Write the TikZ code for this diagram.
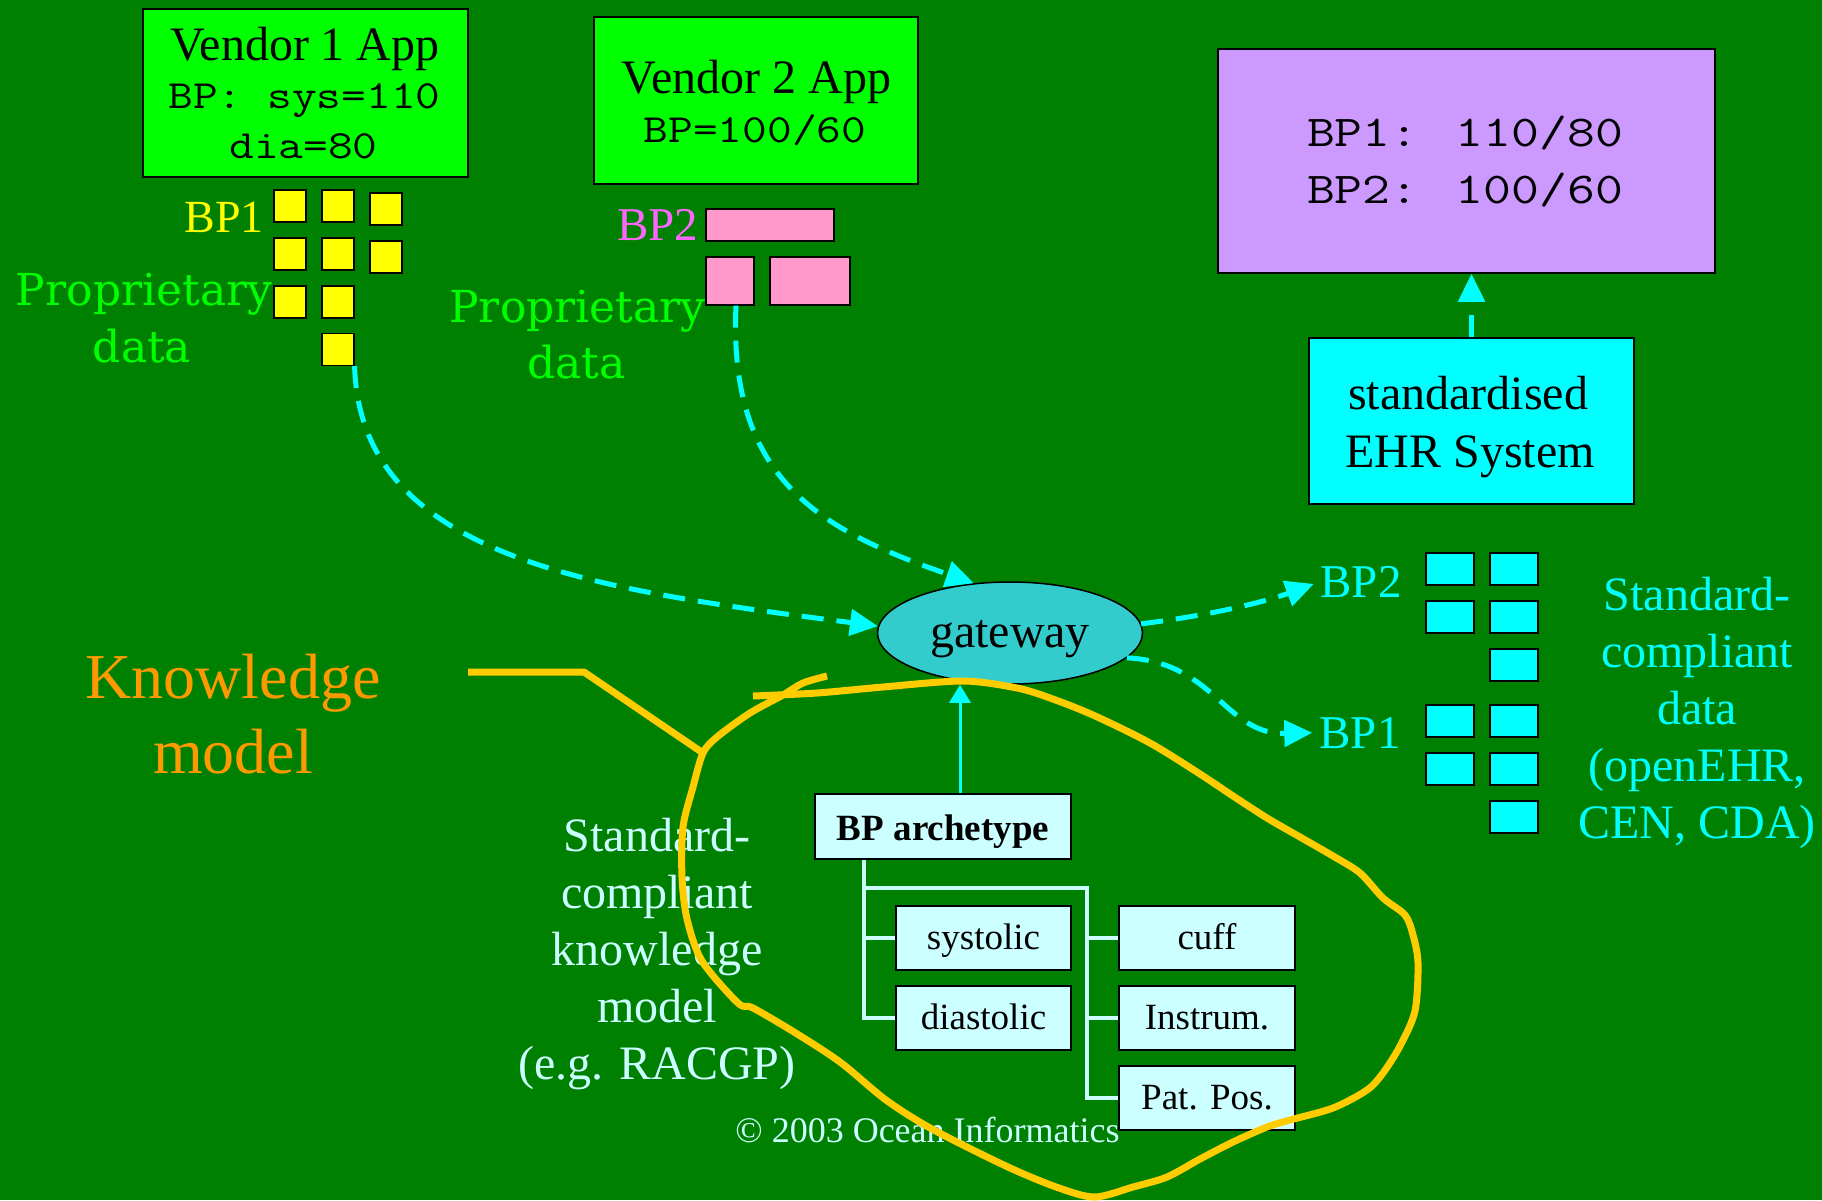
\documentclass[tikz,border=0pt]{standalone}
\usepackage{fontspec}
\setmainfont{Liberation Serif}
\newfontfamily\propfont{DejaVu Serif}
\usetikzlibrary{arrows.meta,shapes.geometric}
\definecolor{bgc}{RGB}{0,128,0}
\definecolor{vgreen}{HTML}{00FF00}
\definecolor{propc}{HTML}{00FF00}
\definecolor{yel}{HTML}{FFFF00}
\definecolor{pinkf}{HTML}{FF99CC}
\definecolor{pinkt}{HTML}{FF66FF}
\definecolor{cyanc}{HTML}{00FFFF}
\definecolor{purp}{HTML}{CC99FF}
\definecolor{gwc}{HTML}{33CCCC}
\definecolor{lcyan}{HTML}{CCFFFF}
\definecolor{orng}{HTML}{FF9900}
\definecolor{loopc}{HTML}{FFCC00}
\begin{document}
\begin{tikzpicture}[x=1pt,y=-1pt,
  box/.style={draw=black,line width=1.5pt,inner sep=0pt},
  sq/.style={draw=black,line width=1.2pt,inner sep=0pt},
  lbl/.style={inner sep=0pt,anchor=base},
  fs/.style={font=\fontsize{#1}{#1}\selectfont},
  mono/.style={font=\ttfamily\fontsize{#1}{#1}\selectfont\addfontfeature{FakeBold=1.2}},
  prop/.style={font=\propfont\fontsize{44}{44}\selectfont,text=propc},
  treebox/.style={draw=black,line width=1.5pt,fill=lcyan,inner sep=0pt,
    minimum height=64pt,text height=27pt,text depth=5pt,fs=37},
  treeline/.style={draw=lcyan,line width=4pt},
  dasharrow/.style={draw=cyanc,line width=5pt,dash pattern=on 22pt off 13pt,
    -{Triangle[length=28pt,width=26pt]}},
  loopline/.style={draw=loopc,line width=7pt,line join=round}
]
\useasboundingbox (0,0) rectangle (1822,1200);
\fill[bgc] (0,0) rectangle (1822,1200);

% Vendor 1
\node[box,fill=vgreen,minimum width=325pt,minimum height=168pt] (v1) at (305.5,93) {};
\node[lbl,fs=48] (v1a) at (305,60) {Vendor 1 App};
\node[lbl,mono=40] (v1b) at (304.5,108) {\scalebox{1.2}[1]{BP: sys=110}};
\node[lbl,mono=40] (v1c) at (303.5,158) {\scalebox{1.2}[1]{dia=80}};

% Vendor 2
\node[box,fill=vgreen,minimum width=324pt,minimum height=167pt] (v2) at (756,100.5) {};
\node[lbl,fs=48] (v2a) at (756.5,93) {Vendor 2 App};
\node[lbl,mono=40] (v2b) at (755,142) {\scalebox{1.2}[1]{BP=100/60}};

% purple result box
\node[box,fill=purp,minimum width=497pt,minimum height=224pt] (pur) at (1466.5,161) {};
\node[lbl,mono=44] (pura) at (1465,146) {\scalebox{1.23}[1]{BP1: 110/80}};
\node[lbl,mono=44] (purb) at (1465,203) {\scalebox{1.23}[1]{BP2: 100/60}};

% EHR system
\node[box,fill=cyanc,minimum width=325pt,minimum height=166pt] (ehr) at (1471.5,421) {};
\node[lbl,fs=48] (ehra) at (1468,409) {standardised};
\node[lbl,fs=48] (ehrb) at (1470,467) {EHR System};

% yellow BP1 squares
\foreach \n/\x/\y in {11/290/206,21/338/206,31/386/209,
                      12/290/254,22/338/254,32/386/257,
                      13/290/302,23/338/302,
                      24/338/349.5}
  \node[sq,fill=yel,minimum width=32pt,minimum height=32pt] (y\n) at (\x,\y) {};
\node[lbl,fs=46,text=yel] (bp1y) at (224,232) {BP1};
\node[lbl,prop] (pd1a) at (144,305) {Proprietary};
\node[lbl,prop] (pd1b) at (142,362) {data};

% pink BP2 blocks
\node[sq,fill=pinkf,minimum width=128pt,minimum height=32pt] (pk1) at (770,225) {};
\node[sq,fill=pinkf,minimum width=48pt,minimum height=48pt] (pk2) at (730,281) {};
\node[sq,fill=pinkf,minimum width=80pt,minimum height=48pt] (pk3) at (810,281) {};
\node[lbl,fs=47,text=pinkt] (bp2p) at (657.5,240) {BP2};
\node[lbl,prop] (pd2a) at (577.5,322) {Proprietary};
\node[lbl,prop] (pd2b) at (576.5,378) {data};

% cyan standard blocks
\foreach \n/\x/\y in {a1/1450/569,b1/1514/569,a2/1450/617,b2/1514/617,b3/1514/665,
                      a4/1450/721,b4/1514/721,a5/1450/769,b5/1514/769,b6/1514/817}
  \node[sq,fill=cyanc,minimum width=48pt,minimum height=32pt] (c\n) at (\x,\y) {};
\node[lbl,fs=47,text=cyanc] (bp2c) at (1361,597) {BP2};
\node[lbl,fs=47,text=cyanc] (bp1c) at (1360,748) {BP1};
\foreach \t/\y [count=\i] in {Standard-/610,compliant/667,data/724,{(openEHR,}/781,{CEN, CDA)}/838}
  \node[lbl,fs=48,text=cyanc] (sd\i) at (1697,\y) {\t};

% gateway
\node[ellipse,draw=black,line width=1.5pt,fill=gwc,inner sep=0pt,
      minimum width=265pt,minimum height=102pt] (gw) at (1010,633) {};
\node[lbl,fs=48] (gwt) at (1010,647) {gateway};

% knowledge model labels
\node[lbl,fs=64,text=orng] (km1) at (233,698) {Knowledge};
\node[lbl,fs=64,text=orng] (km2) at (233,773) {model};
\foreach \t/\y [count=\i] in {Standard-/851,compliant/908,knowledge/965,model/1022,{(e.g. RACGP)}/1079}
  \node[lbl,fs=48,text=lcyan] (sk\i) at (657,\y) {\t};
\node[lbl,fs=36,text=lcyan] (copy) at (927.5,1142) {© 2003 Ocean Informatics};

% archetype tree
\node[box,fill=lcyan,minimum width=256pt,minimum height=65pt,
      text height=30pt,text depth=3pt,font=\bfseries\fontsize{37}{37}\selectfont] (arch) at (943,826.5) {BP archetype};
\node[treebox,minimum width=175pt] (sys) at (983.5,938) {systolic};
\node[treebox,minimum width=175pt] (dia) at (983.5,1018) {diastolic};
\node[treebox,minimum width=176pt] (cuff) at (1207,938) {cuff};
\node[treebox,minimum width=176pt] (ins) at (1207,1018) {Instrum.};
\node[treebox,minimum width=176pt] (pat) at (1207,1098) {Pat. Pos.};
\coordinate (t1) at (864,888);
\coordinate (t2) at (1087,888);
\draw[treeline] (arch.south -| t1) -- (t1 |- dia.west) -- (dia.west);
\draw[treeline] (t1) -- (t2) -- (t2 |- pat.west) -- (pat.west);
\draw[treeline] (t1 |- sys.west) -- (sys.west);
\draw[treeline] (t2 |- cuff.west) -- (cuff.west);
\draw[treeline] (t2 |- ins.west) -- (ins.west);

% knowledge model pointer and loop
\draw[loopline] (468,672) -- (584,672) -- (703,753);
\draw[loopline] plot[smooth,tension=0.5] coordinates {
 (753,696) (817,693) (883,687) (963,681) (1017,688) (1050,698) (1093,715) (1150,743)
 (1200,774) (1233,796) (1267,818) (1300,837) (1333,856) (1360,873) (1383,898) (1405,915)
 (1413,935) (1418,963) (1415,1011) (1400,1046) (1383,1073) (1367,1090) (1333,1108)
 (1290,1120) (1267,1127) (1233,1142) (1200,1159) (1167,1177) (1133,1187) (1095,1197)
 (1059,1188) (1008,1167) (932,1129) (886,1100) (840,1062) (794,1032) (753,1008)
 (738,1003) (702,961) (687,919) (682,877) (683,827) (693,787) (703,753) (717,737)
 (750,713) (783,695) (803,683) (827,676)};

% connectors
\draw[dasharrow] (y24.south east) .. controls (360,560) and (600,590) .. (gw.177);
\draw[dasharrow] ([xshift=6pt]pk2.south) .. controls (728,480) and (820,530) .. (gw.126);
\draw[dasharrow,shorten >=7pt] (gw.4) .. controls (1220,614) and (1270,600) .. (bp2c.west);
\draw[dasharrow,shorten >=7pt] (gw.-12) .. controls (1215,662) and (1225,735) .. (bp1c.west);
\draw[dasharrow] (ehr.north) -- (ehr.north |- pur.south);
\draw[draw=cyanc,line width=3pt,-{Triangle[length=18pt,width=21pt]}]
  ([xshift=17pt]arch.north) -- ([xshift=17pt]arch.north |- gw.south);
\end{tikzpicture}
\end{document}
